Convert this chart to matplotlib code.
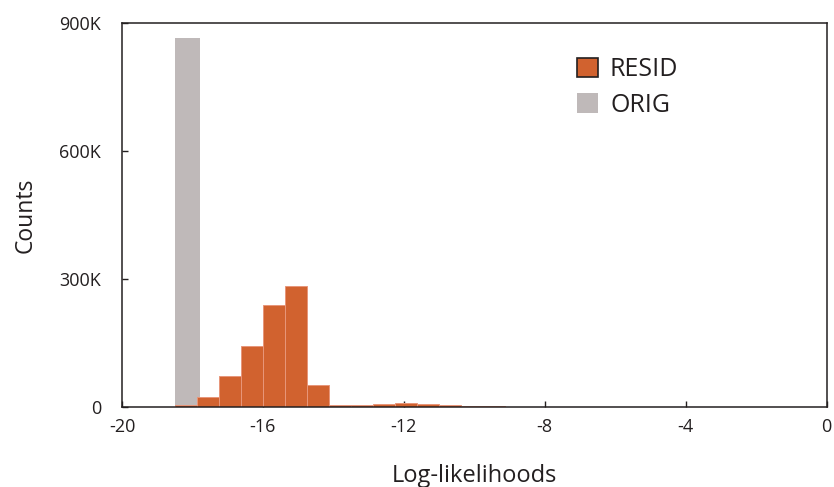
import matplotlib
matplotlib.use("Agg")
import matplotlib.pyplot as plt
from matplotlib.patches import Patch
from matplotlib.ticker import FuncFormatter

plt.rcParams['font.family'] = ['Open Sans', 'DejaVu Sans']
plt.rcParams['axes.unicode_minus'] = False

# Data (counts in thousands)
resid_bin_left = [-18.5, -17.875, -17.25, -16.625, -16.0, -15.375, -14.75, -14.125,
                  -13.5, -12.875, -12.25, -11.625, -11.0, -10.375, -9.75, -9.125]
resid_counts_k = [6, 25, 73, 143, 239, 285, 52, 6,
                  6, 8.5, 9, 8, 5, 4, 2, 1]
resid_bin_width = 0.625

orig_bin_left = [-18.5]
orig_counts_k = [865]
orig_bin_width = 0.72

x_ticks = [-20, -16, -12, -8, -4, 0]
y_ticks_k = [0, 300, 600, 900]

resid_color = '#D1622F'
orig_color = '#BFB9B9'
ink = '#231F20'

fig = plt.figure(figsize=(8.34, 4.87), dpi=100)
ax = fig.add_axes([122/834, 1-407.3/487, (826.5-122)/834, (407.3-23.3)/487])

ax.bar(orig_bin_left, orig_counts_k, width=orig_bin_width, align='edge',
       color=orig_color, edgecolor='none', zorder=1)
ax.bar(resid_bin_left, resid_counts_k, width=resid_bin_width, align='edge',
       color=resid_color, edgecolor='#E8967A', linewidth=0.7, zorder=2)

ax.set_xlim(-20, 0)
ax.set_ylim(0, 900)
ax.set_xticks(x_ticks)
ax.set_yticks(y_ticks_k)
ax.yaxis.set_major_formatter(FuncFormatter(lambda v, p: '0' if v == 0 else f'{v:g}K'))

for s in ax.spines.values():
    s.set_color(ink)
    s.set_linewidth(1.1)
ax.tick_params(axis='both', direction='in', length=4.3, width=1.0, color=ink,
               labelsize=13, labelcolor=ink)
ax.tick_params(axis='y', pad=15)
ax.tick_params(axis='x', pad=8)

ax.set_xlabel('Log-likelihoods', fontsize=17, color=ink, labelpad=20)
ax.set_ylabel('Counts', fontsize=16.5, color=ink, labelpad=15.5)

handles = [Patch(facecolor=resid_color, edgecolor=ink, linewidth=1.2, label='RESID'),
           Patch(facecolor=orig_color, edgecolor='none', label='ORIG')]
leg = ax.legend(handles=handles, loc='upper left',
                bbox_to_anchor=(577/834, 1-57/487), bbox_transform=fig.transFigure,
                frameon=False, fontsize=18, handlelength=0.82, handleheight=0.82,
                handletextpad=0.5, labelspacing=0.42, borderpad=0, borderaxespad=0)
for t in leg.get_texts():
    t.set_color(ink)

fig.savefig('out.png', dpi=100)
